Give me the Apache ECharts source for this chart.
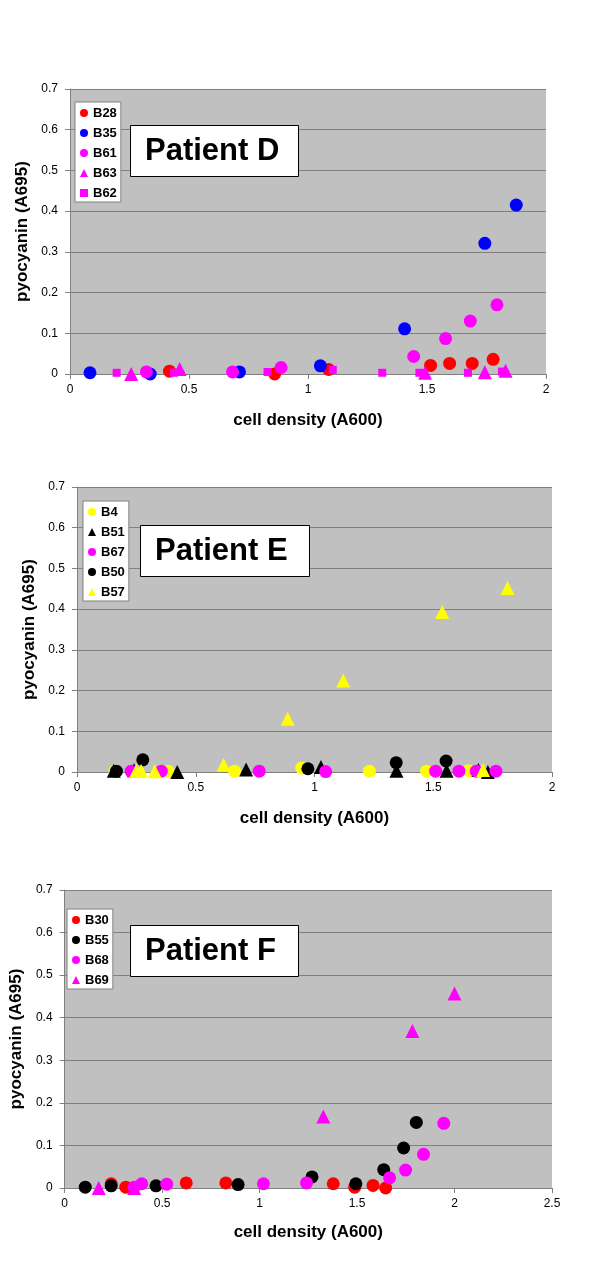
<!DOCTYPE html>
<html>
<head>
<meta charset="utf-8">
<script src="https://cdn.jsdelivr.net/npm/echarts@6/dist/echarts.min.js"></script>
<style>
html,body{margin:0;padding:0;background:#fff;}
#chart{width:600px;height:1270px;}
</style>
</head>
<body>
<div id="chart"></div>
<script>
// ---------- DATA ----------
// Patient D
const B28 = [[0.418,0.007],[0.86,0.0],[1.087,0.011],[1.515,0.021],[1.595,0.026],[1.69,0.026],[1.778,0.036]];
const B35 = [[0.084,0.003],[0.337,0.0],[0.712,0.005],[1.052,0.02],[1.406,0.111],[1.743,0.321],[1.875,0.415]];
const B61 = [[0.321,0.005],[0.683,0.005],[0.887,0.016],[1.444,0.043],[1.578,0.087],[1.682,0.13],[1.794,0.17]];
const B63 = [[0.257,0.0],[0.461,0.012],[1.492,0.003],[1.743,0.004],[1.83,0.008]];
const B62 = [[0.196,0.003],[0.437,0.003],[0.83,0.005],[1.104,0.01],[1.312,0.003],[1.468,0.003],[1.672,0.003],[1.815,0.006]];
// Patient E
const B4  = [[0.16,0.002],[0.383,0.002],[0.663,0.002],[0.946,0.01],[1.231,0.002],[1.472,0.002],[1.649,0.003]];
const B51 = [[0.155,0.003],[0.24,0.004],[0.422,0.0],[0.712,0.006],[1.027,0.012],[1.345,0.003],[1.556,0.003],[1.69,0.005],[1.73,0.0]];
const B67 = [[0.228,0.002],[0.355,0.002],[0.767,0.002],[1.047,0.001],[1.51,0.002],[1.608,0.002],[1.681,0.002],[1.764,0.002]];
const B50 = [[0.166,0.002],[0.277,0.03],[0.972,0.008],[1.344,0.023],[1.554,0.027]];
const B57 = [[0.25,0.003],[0.27,0.003],[0.327,0.002],[0.617,0.018],[0.887,0.131],[1.121,0.225],[1.538,0.393],[1.71,0.005],[1.813,0.452]];
// Patient F
const B30 = [[0.239,0.01],[0.314,0.002],[0.624,0.012],[0.827,0.012],[1.378,0.01],[1.488,0.002],[1.582,0.006],[1.647,0.0]];
const B55 = [[0.106,0.002],[0.239,0.005],[0.469,0.005],[0.89,0.008],[1.269,0.026],[1.494,0.01],[1.637,0.043],[1.739,0.094],[1.804,0.154]];
const B68 = [[0.357,0.002],[0.396,0.01],[0.524,0.009],[1.02,0.01],[1.241,0.012],[1.667,0.024],[1.749,0.042],[1.841,0.079],[1.945,0.152]];
const B69 = [[0.175,0.0],[0.357,0.0],[1.327,0.168],[1.784,0.369],[2.0,0.457]];

const panelTitles = ['Patient D','Patient E','Patient F'];
const xMaxes = [2, 2, 2.5];
const yMax = 0.7;
const xTitle = 'cell density (A600)';
const yTitle = 'pyocyanin (A695)';

// ---------- CHART ----------
const FONT = '"Liberation Sans", Arial, sans-serif';
const grids = [
  {left:70, top:89, width:476, height:285},
  {left:77, top:487, width:475, height:285},
  {left:64, top:890, width:488, height:298}
];
const legendPos = [{left:75, top:102},{left:83, top:501},{left:67, top:909}];
const titlePos = [{left:130, top:125, pr:19},{left:140, top:525, pr:22},{left:130, top:925, pr:23}];
const yGaps = [35, 37, 35];
const xGaps = [38, 38, 36];

const panels = [
  [['B28',B28,'circle','#ff0000'],['B35',B35,'circle','#0000ff'],['B61',B61,'circle','#ff00ff'],['B63',B63,'triangle','#ff00ff'],['B62',B62,'rect','#ff00ff']],
  [['B4',B4,'circle','#ffff00'],['B51',B51,'triangle','#000000'],['B67',B67,'circle','#ff00ff'],['B50',B50,'circle','#000000'],['B57',B57,'triangle','#ffff00']],
  [['B30',B30,'circle','#ff0000'],['B55',B55,'circle','#000000'],['B68',B68,'circle','#ff00ff'],['B69',B69,'triangle','#ff00ff']]
];

const option = {
  animation:false,
  backgroundColor:'#ffffff',
  textStyle:{fontFamily:FONT},
  grid:grids.map(g=>Object.assign({show:true, backgroundColor:'#c0c0c0', borderWidth:0}, g)),
  xAxis:grids.map((g,i)=>({
    type:'value', gridIndex:i, min:0, max:xMaxes[i], interval:0.5,
    name:xTitle, nameLocation:'middle', nameGap:xGaps[i],
    nameTextStyle:{fontSize:17, fontWeight:'bold', color:'#000', fontFamily:FONT},
    axisLine:{show:true, onZero:false, lineStyle:{color:'#808080', width:1}},
    axisTick:{show:true, inside:false, length:5, lineStyle:{color:'#808080'}},
    axisLabel:{fontSize:12, color:'#000', margin:10, fontFamily:FONT},
    splitLine:{show:false}
  })),
  yAxis:grids.map((g,i)=>({
    type:'value', gridIndex:i, min:0, max:yMax, interval:0.1,
    name:yTitle, nameLocation:'middle', nameGap:yGaps[i], nameRotate:90,
    nameTextStyle:{fontSize:17, fontWeight:'bold', color:'#000', fontFamily:FONT},
    axisLine:{show:true, lineStyle:{color:'#808080', width:1}},
    axisTick:{show:true, inside:false, length:5, lineStyle:{color:'#808080'}},
    axisLabel:{fontSize:12, color:'#000', margin:12, fontFamily:FONT},
    splitLine:{show:true, lineStyle:{color:'#808080', width:1}}
  })),
  legend:panels.map((p,i)=>({
    data:p.map(s=>s[0]),
    orient:'vertical', left:legendPos[i].left, top:legendPos[i].top,
    backgroundColor:'#ffffff', borderColor:'#808080', borderWidth:1,
    padding:[4,4,2,5], itemGap:6, itemWidth:8, itemHeight:8,
    selectedMode:false,
    textStyle:{fontSize:13, fontWeight:'bold', color:'#000', lineHeight:14, fontFamily:FONT}
  })),
  title:panelTitles.map((t,i)=>({
    text:t, left:titlePos[i].left, top:titlePos[i].top,
    backgroundColor:'#ffffff', borderColor:'#000000', borderWidth:1,
    padding:[10,titlePos[i].pr,10,15],
    textStyle:{fontSize:31, fontWeight:'bold', color:'#000', lineHeight:32, fontFamily:FONT}
  })),
  series:[]
};

panels.forEach((p,i)=>{
  p.forEach(s=>{
    const sz = s[2]==='circle' ? 13 : (s[2]==='triangle' ? 14 : 8);
    option.series.push({
      name:s[0], type:'scatter', xAxisIndex:i, yAxisIndex:i,
      data:s[1], symbol:s[2], symbolSize:sz, clip:false,
      itemStyle:{color:s[3], opacity:1}
    });
  });
});

const chart = echarts.init(document.getElementById('chart'), null, {renderer:'canvas'});
chart.setOption(option);
</script>
</body>
</html>
